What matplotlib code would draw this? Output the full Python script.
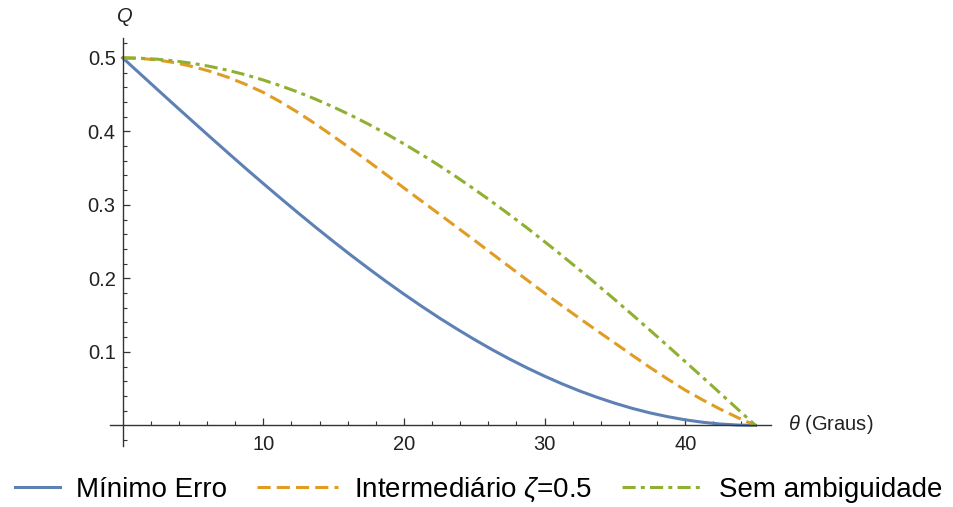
import matplotlib
matplotlib.use("Agg")
import matplotlib.pyplot as plt
from matplotlib.ticker import FixedLocator
from matplotlib.legend_handler import HandlerLine2D

plt.rcParams['font.family'] = ['Liberation Sans', 'DejaVu Sans']
plt.rcParams['mathtext.fontset'] = 'custom'
plt.rcParams['mathtext.it'] = 'Liberation Sans:italic'
plt.rcParams['mathtext.rm'] = 'Liberation Sans'

# angle theta in degrees
theta = [0, 1.25, 2.5, 3.75, 5, 6.25, 7.5, 8.75, 10, 11.25, 12.5, 13.75, 15,
         16.25, 17.5, 18.75, 20, 21.25, 22.5, 23.75, 25, 26.25, 27.5, 28.75, 30,
         31.25, 32.5, 33.75, 35, 36.25, 37.5, 38.75, 40, 41.25, 42.5, 43.75, 45]
# Minimo erro
q_min_erro = [0.5000, 0.4782, 0.4564, 0.4347, 0.4132, 0.3918, 0.3706, 0.3496,
              0.3290, 0.3087, 0.2887, 0.2691, 0.2500, 0.2313, 0.2132, 0.1956,
              0.1786, 0.1622, 0.1464, 0.1314, 0.1170, 0.1033, 0.0904, 0.0783,
              0.0670, 0.0565, 0.0468, 0.0381, 0.0302, 0.0231, 0.0170, 0.0119,
              0.0076, 0.0043, 0.0019, 0.0005, 0.0000]
# Intermediario zeta = 0.5
q_intermed = [0.5000, 0.4993, 0.4970, 0.4933, 0.4880, 0.4815, 0.4735, 0.4639,
              0.4530, 0.4398, 0.4253, 0.4096, 0.3930, 0.3761, 0.3588, 0.3410,
              0.3230, 0.3053, 0.2876, 0.2698, 0.2520, 0.2339, 0.2158, 0.1979,
              0.1800, 0.1626, 0.1455, 0.1286, 0.1120, 0.0952, 0.0788, 0.0631,
              0.0480, 0.0346, 0.0220, 0.0105, 0.0000]
# Sem ambiguidade
q_sem_amb = [0.5000, 0.4995, 0.4981, 0.4957, 0.4924, 0.4882, 0.4830, 0.4769,
             0.4698, 0.4619, 0.4532, 0.4435, 0.4330, 0.4217, 0.4096, 0.3967,
             0.3830, 0.3686, 0.3536, 0.3378, 0.3214, 0.3044, 0.2868, 0.2687,
             0.2500, 0.2309, 0.2113, 0.1913, 0.1710, 0.1504, 0.1294, 0.1082,
             0.0868, 0.0653, 0.0436, 0.0218, 0.0000]

labels = ["Mínimo Erro", "Intermediário $\\zeta$=0.5", "Sem ambiguidade"]
x_ticks = [10, 20, 30, 40]
y_ticks = [0.1, 0.2, 0.3, 0.4, 0.5]


class RightShortHandler(HandlerLine2D):
    """Legend line that only fills the right part of the handle box."""
    def __init__(self, frac, **kw):
        super().__init__(**kw)
        self.frac = frac

    def create_artists(self, legend, orig_handle, xdescent, ydescent, width,
                       height, fontsize, trans):
        w2 = width * self.frac
        return super().create_artists(legend, orig_handle, xdescent - (width - w2),
                                      ydescent, w2, height, fontsize, trans)


W, H = 954, 507
fig = plt.figure(figsize=(W / 100, H / 100), dpi=100)
ax = fig.add_axes([110 / W, 1 - 446 / H, (771 - 110) / W, (446 - 38) / H])

blue, orange, green = '#5E81B5', '#E19C24', '#8FB032'
lw = 2.2
l1, = ax.plot(theta, q_min_erro, color=blue, lw=lw, label=labels[0])
l2, = ax.plot(theta, q_intermed, color=orange, lw=lw, dashes=(4.3, 2.0), label=labels[1])
l3, = ax.plot(theta, q_sem_amb, color=green, lw=lw, dashes=(4.3, 1.7, 1.3, 1.7), label=labels[2])

ax.set_xlim(-0.9, 46.1)
ax.set_ylim(-0.028, 0.527)

for s in ['top', 'right']:
    ax.spines[s].set_visible(False)
ax.spines['left'].set_position(('data', 0))
ax.spines['bottom'].set_position(('data', 0))
for s in ['left', 'bottom']:
    ax.spines[s].set_color('#333333')
    ax.spines[s].set_linewidth(1.0)

ax.xaxis.set_major_locator(FixedLocator(x_ticks))
ax.xaxis.set_minor_locator(FixedLocator([v for v in range(2, 46, 2) if v % 10 != 0]))
ax.yaxis.set_major_locator(FixedLocator(y_ticks))
ax.yaxis.set_minor_locator(FixedLocator([-0.02] + [round(0.02 * k, 2) for k in range(1, 27) if k % 5 != 0]))
ax.set_xticklabels([str(v) for v in x_ticks])
ax.set_yticklabels([f"{v:.1f}" for v in y_ticks])
ax.tick_params(which='major', direction='in', length=5, width=0.9, color='#333333',
               labelsize=14.5, labelcolor='#222222')
ax.tick_params(which='minor', direction='in', length=3, width=0.8, color='#333333')
ax.tick_params(axis='x', which='major', pad=7)
ax.tick_params(axis='y', which='major', pad=5)

fig.text(125 / W, 1 - 16 / H, "Q", ha='center', va='center', fontsize=14.5,
         style='italic', color='#222222')
fig.text(788 / W, 1 - 424 / H, "$\\theta$ (Graus)", ha='left', va='center',
         fontsize=14.5, color='#222222')

fig.legend(handles=[l1, l2, l3], loc='center', bbox_to_anchor=(0.483, 1 - 490 / H),
           ncol=3, frameon=False, fontsize=20, handlelength=2.9, handletextpad=0.58,
           columnspacing=1.08, borderpad=0, borderaxespad=0,
           handler_map={l1: RightShortHandler(0.56)})

fig.savefig("out.png", dpi=100)
